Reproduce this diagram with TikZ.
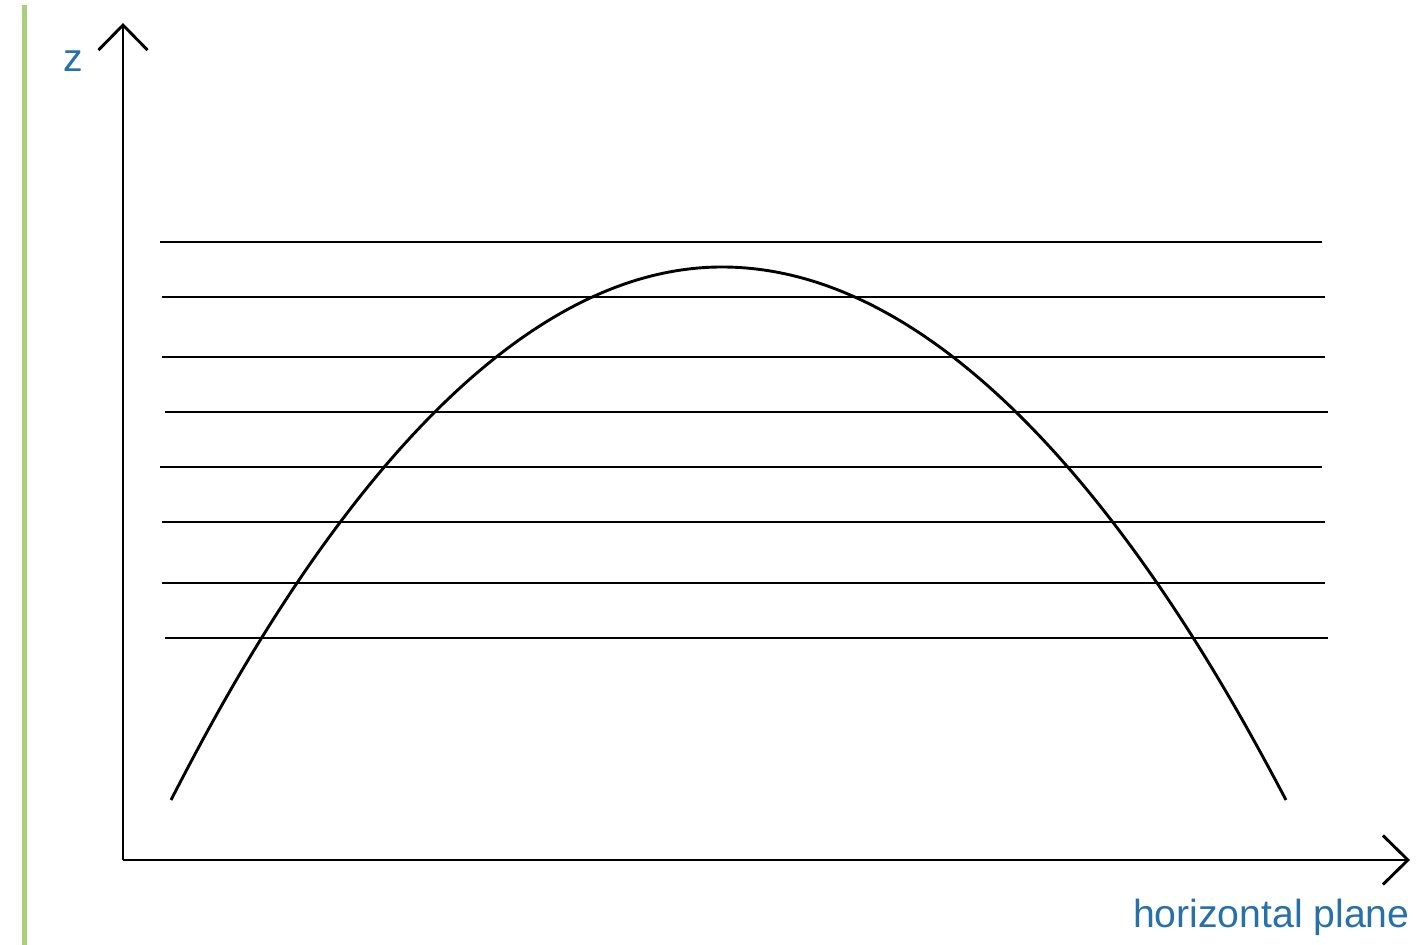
\documentclass[tikz,border=0pt]{standalone}
\usepackage{xcolor}
\usepackage{fontspec}
\setmainfont{Liberation Sans}
\usepackage{tikz}
\usetikzlibrary{arrows.meta}

\begin{document}
\begin{tikzpicture}[x=0.02cm, y=-0.02cm,
        eje/.style={line width=1.65pt, -{Straight Barb[length=0.5cm, width=0.98cm, line width=1.65pt]}},
        nivel/.style={line width=1.65pt},
        etiqueta/.style={text=azulT, font=\fontsize{22.3}{26}\selectfont, inner sep=0pt}]
        \definecolor{azulT}{HTML}{2770AA}
        \definecolor{verdeB}{HTML}{A8CF7B}
        \useasboundingbox (0,0) rectangle (1428,945);
        % barra lateral
        \draw[verdeB, line width=2.9pt] (24.5,5) -- (24.5,945);
        % ejes
        \coordinate (O) at (123,860);
        \coordinate (zfin) at (123,23);
        \coordinate (hfin) at (1410,860);
        \draw[eje] (O) -- (zfin);
        \draw[eje] (O) -- (hfin);
        \node[etiqueta, anchor=base] (zlab) at (73,72) {z};
        \node[etiqueta, anchor=base east] (hlab) at (1410,928) {horizontal plane};
        % planos horizontales
        \foreach \y/\a/\b in {242/160/1322, 297/162/1325, 357/162/1325, 412/165/1328,
                              467/160/1322, 522/162/1325, 583/162/1325, 638/165/1328}
            \draw[nivel] (\a,\y) -- (\b,\y);
        % trayectoria
        \coordinate (ini) at (171,800);
        \coordinate (cima) at (722,267);
        \coordinate (fin) at (1286,800);
        \draw[nivel] (ini) parabola bend (cima) (fin);
    \end{tikzpicture}
\end{document}
